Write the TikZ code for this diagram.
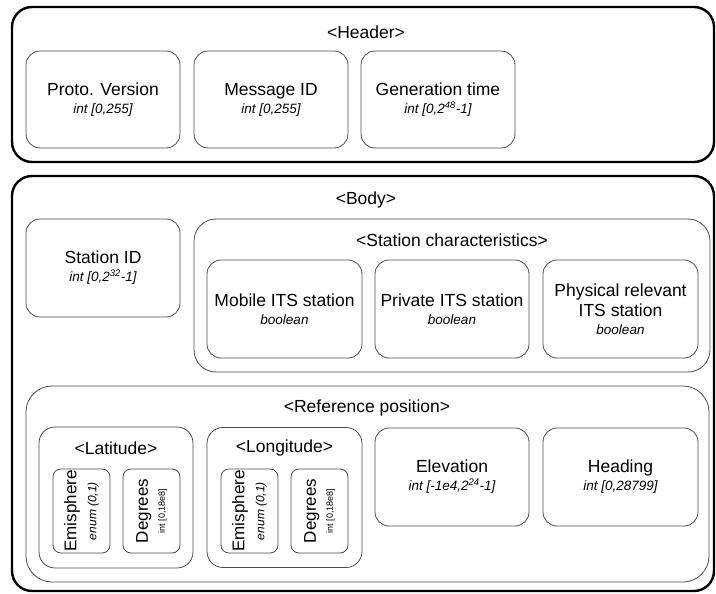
\documentclass[tikz,border=0pt]{standalone}
\usepackage{fontspec}
\setmainfont{Liberation Sans}
\newcommand{\mainsz}{\fontsize{17.5}{20}\selectfont}
\newcommand{\itsz}{\fontsize{13.5}{16}\selectfont\itshape}
\begin{document}
\begin{tikzpicture}[x=1pt,y=-1pt,
  outerbox/.style={draw=black, line width=2.4pt, rounded corners=20pt},
  groupbox/.style={draw=black!70, line width=0.8pt, rounded corners=22pt},
  fieldbox/.style={draw=black!70, line width=0.8pt, rounded corners=14pt, align=center, inner sep=0pt, font=\mainsz},
  smallbox/.style={draw=black!70, line width=0.8pt, rounded corners=8pt, align=center, inner sep=0pt, rotate=90, minimum width=84pt, minimum height=57pt},
  titletext/.style={font=\mainsz, inner sep=0pt}]
\useasboundingbox (0,0) rectangle (716,594);
% outer boxes
\node[outerbox, minimum width=702pt, minimum height=155pt] (header) at (363,84.5) {};
\node[outerbox, minimum width=702pt, minimum height=415pt] (body) at (363,383.5) {};
\node[titletext] (headert) at (366,32) {<Header>};
\node[titletext] (bodyt) at (366,200) {<Body>};
% header fields
\node[fieldbox, minimum width=154pt, minimum height=97pt] (proto) at (103,99.5) {Proto. Version\\[-2pt]{\itsz int [0,255]}};
\node[fieldbox, minimum width=154pt, minimum height=97pt] (msgid) at (271,99.5) {Message ID\\[-2pt]{\itsz int [0,255]}};
\node[fieldbox, minimum width=154pt, minimum height=97pt] (gentime) at (438,99.5) {Generation time\\[-2pt]{\itsz int [0,2\textsuperscript{48}-1]}};
% body
\node[fieldbox, minimum width=154pt, minimum height=98pt] (stationid) at (103,268) {Station ID\\[-2pt]{\itsz int [0,2\textsuperscript{32}-1]}};
\node[groupbox, minimum width=516pt, minimum height=153pt] (stchar) at (452,295.5) {};
\node[titletext] (stchart) at (452,240) {<Station characteristics>};
\node[fieldbox, minimum width=155pt, minimum height=98pt] (mobile) at (284.5,309) {Mobile ITS station\\[-2pt]{\itsz boolean}};
\node[fieldbox, minimum width=154pt, minimum height=98pt] (private) at (452,309) {Private ITS station\\[-2pt]{\itsz boolean}};
\node[fieldbox, minimum width=155pt, minimum height=98pt] (physical) at (620.5,309) {Physical relevant\\ITS station\\[-2pt]{\itsz boolean}};
% reference position
\node[groupbox, rounded corners=26pt, minimum width=683pt, minimum height=196pt] (refpos) at (367.5,484) {};
\node[titletext] (refpost) at (367,408) {<Reference position>};
\node[groupbox, rounded corners=16pt, minimum width=154pt, minimum height=141pt] (lat) at (116,497.5) {};
\node[titletext] (latt) at (116,448) {<Latitude>};
\node[groupbox, rounded corners=16pt, minimum width=155pt, minimum height=140pt] (lon) at (284.5,497.5) {};
\node[titletext] (lont) at (284.5,448) {<Longitude>};
\node[smallbox, font=\fontsize{17}{20}\selectfont] (latemi) at (81.5,511) {Emisphere\\{\fontsize{12}{14}\selectfont\itshape enum (0,1)}};
\node[smallbox, font=\fontsize{17}{17}\selectfont] (latdeg) at (151.5,511) {Degrees\\{\fontsize{9}{10}\selectfont int [0,18e8]}};
\node[smallbox, font=\fontsize{17}{20}\selectfont] (lonemi) at (249.5,511) {Emisphere\\{\fontsize{12}{14}\selectfont\itshape enum (0,1)}};
\node[smallbox, font=\fontsize{17}{17}\selectfont] (londeg) at (319.5,511) {Degrees\\{\fontsize{9}{10}\selectfont int [0,18e8]}};
\node[fieldbox, minimum width=154pt, minimum height=98pt] (elev) at (452,477) {Elevation\\[-2pt]{\itsz int [-1e4,2\textsuperscript{24}-1]}};
\node[fieldbox, minimum width=155pt, minimum height=98pt] (heading) at (620.5,477) {Heading\\[-2pt]{\itsz int [0,28799]}};
\end{tikzpicture}
\end{document}
